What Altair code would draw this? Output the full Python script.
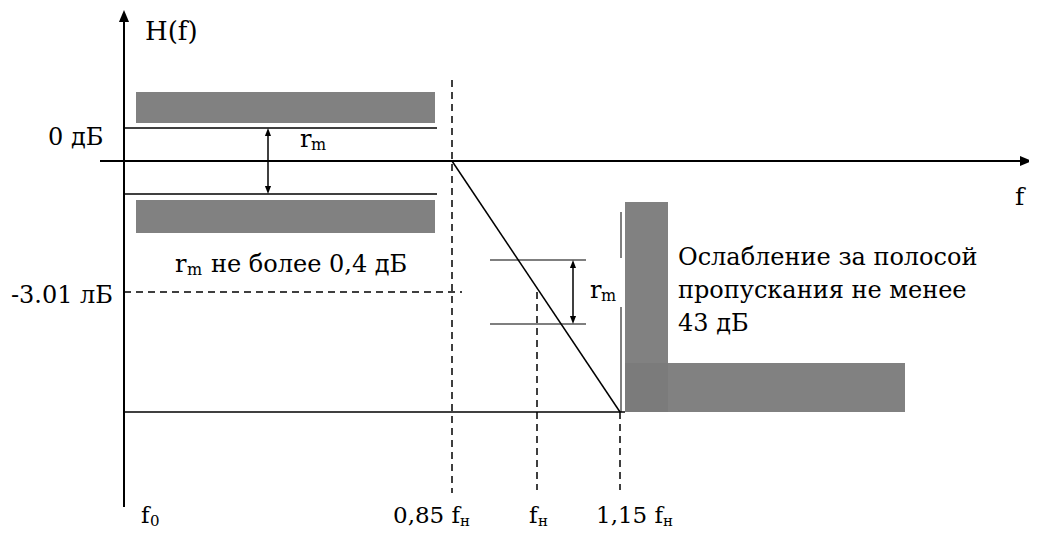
import altair as alt
import pandas as pd

# ---- schematic diagram values (diagram units: page pixels of the reference) ----
# shaded tolerance / stop-band zones
band_name = ["pass_upper", "pass_lower", "stop_vertical", "stop_horizontal"]
band_x1 = [136, 136, 625, 625]
band_x2 = [435, 435, 668, 905]
band_y1 = [92, 200, 202, 363]
band_y2 = [123, 233, 412, 412]

# solid segments
seg_name = ["H_axis", "f_axis", "ripple_top", "ripple_bottom", "ripple_arrow",
            "slope", "bottom_level", "trans_top", "trans_bottom", "trans_arrow",
            "stop_edge_a", "stop_edge_b"]
seg_x1 = [124, 100, 124, 124, 268, 452, 124, 490, 490, 573, 621, 621]
seg_x2 = [124, 1022, 437, 437, 268, 620, 625, 586, 586, 573, 621, 621]
seg_y1 = [20, 161, 128, 194, 134, 161, 412, 260, 324, 266, 212, 307]
seg_y2 = [507, 161, 128, 194, 188, 412, 412, 260, 324, 318, 258, 412]
seg_w = [2, 2, 1.5, 1.5, 1.5, 1.5, 1.5, 1.2, 1.2, 1.5, 1, 1]

# dashed guide lines
dash_x1 = [452, 124, 537, 620]
dash_x2 = [452, 462, 537, 620]
dash_y1 = [80, 292, 292, 412]
dash_y2 = [493, 292, 490, 490]

# arrow heads
UP_BIG = "M0,0L0.42,1L-0.42,1Z"
RIGHT_BIG = "M0,0L-1,0.42L-1,-0.42Z"
UP_S = "M0,0L0.38,1L-0.38,1Z"
DOWN_S = "M0,0L0.38,-1L-0.38,-1Z"
head_x = [124, 1032, 268, 268, 573, 573]
head_y = [10, 161, 128, 194, 260, 324]
head_shape = [UP_BIG, RIGHT_BIG, UP_S, DOWN_S, UP_S, DOWN_S]
head_size = [576, 576, 256, 256, 256, 256]

# texts (left aligned, alphabetic baseline)
txt = ["H(f)", "f", "0 дБ",
       "r", "m",
       "r", "m", "не более 0,4 дБ",
       "r", "m",
       "Ослабление за полосой", "пропускания не менее", "43 дБ",
       "f", "0",
       "0,85 f", "н",
       "f", "н",
       "1,15 f", "н"]
txt_x = [145, 1015, 48,
         300, 311,
         175, 187, 211,
         590, 601,
         678, 678, 678,
         141, 150,
         393, 460,
         529, 538,
         596, 663]
txt_y = [40, 205, 145,
         147, 150,
         272, 275, 272,
         298, 301,
         265, 298, 331,
         523, 526,
         523, 526,
         523, 526,
         523, 526]
txt_size = [26, 25, 24,
            24, 16,
            24, 16, 24,
            24, 16,
            24, 24, 24,
            23, 15,
            23, 15,
            23, 15,
            23, 15]

# right-aligned level label
rtxt = ["-3.01 лБ"]
rtxt_x = [113]
rtxt_y = [303]
rtxt_size = [24]

# ---- tables ----
bands = pd.DataFrame(dict(name=band_name, x=band_x1, x2=band_x2, y=band_y1, y2=band_y2))
segs = pd.DataFrame(dict(name=seg_name, x=seg_x1, x2=seg_x2, y=seg_y1, y2=seg_y2, w=seg_w))
dashes = pd.DataFrame(dict(x=dash_x1, x2=dash_x2, y=dash_y1, y2=dash_y2))
heads = pd.DataFrame(dict(x=head_x, y=head_y, shape=head_shape, size=head_size))
texts = pd.DataFrame(dict(x=txt_x, y=txt_y, text=txt, size=txt_size))
rtexts = pd.DataFrame(dict(x=rtxt_x, y=rtxt_y, text=rtxt, size=rtxt_size))

FONT = "DejaVu Serif"

W, H = 1021, 519
xs = alt.Scale(domain=[8, 8 + W], nice=False, zero=False)
ys = alt.Scale(domain=[8, 8 + H], nice=False, zero=False, reverse=True)
X = lambda f="x": alt.X(f"{f}:Q", scale=xs, axis=None)
Y = lambda f="y": alt.Y(f"{f}:Q", scale=ys, axis=None)

band_layer = alt.Chart(bands).mark_rect(color="#7a7a7a", opacity=0.95).encode(
    x=X(), x2="x2:Q", y=Y(), y2="y2:Q")

seg_layer = alt.Chart(segs).mark_rule(color="black").encode(
    x=X(), x2="x2:Q", y=Y(), y2="y2:Q",
    size=alt.Size("w:Q", scale=None, legend=None))

dash_layer = alt.Chart(dashes).mark_rule(color="black", strokeWidth=1.5,
                                         strokeDash=[7, 5]).encode(
    x=X(), x2="x2:Q", y=Y(), y2="y2:Q")

head_layer = alt.Chart(heads).mark_point(filled=True, color="black", opacity=1,
                                         strokeWidth=0).encode(
    x=X(), y=Y(),
    shape=alt.Shape("shape:N", scale=None, legend=None),
    size=alt.Size("size:Q", scale=None, legend=None))

text_layer = alt.Chart(texts).mark_text(align="left", baseline="alphabetic",
                                        font=FONT, color="black").encode(
    x=X(), y=Y(), text="text:N",
    size=alt.Size("size:Q", scale=None, legend=None))

rtext_layer = alt.Chart(rtexts).mark_text(align="right", baseline="alphabetic",
                                          font=FONT, color="black").encode(
    x=X(), y=Y(), text="text:N",
    size=alt.Size("size:Q", scale=None, legend=None))

chart = alt.layer(band_layer, seg_layer, dash_layer, head_layer, text_layer,
                  rtext_layer).properties(
    width=W, height=H, padding=0, autosize=alt.AutoSizeParams(type="none"),
    background="white"
).configure_view(stroke=None)

chart.save("out.html", embed_options={"renderer": "svg", "actions": False})
